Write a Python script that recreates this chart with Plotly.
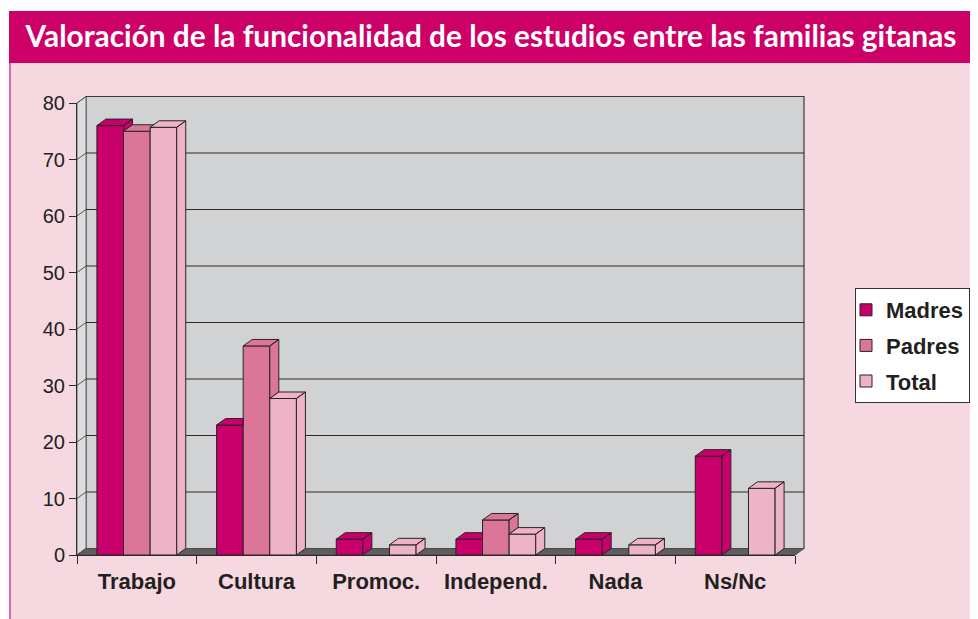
import plotly.graph_objects as go

# ---------------- data ----------------
categories = ["Trabajo", "Cultura", "Promoc.", "Independ.", "Nada", "Ns/Nc"]
madres = [76, 23, 2.8, 2.8, 2.8, 17.5]
padres = [75, 37, None, 6.2, None, None]
total = [75.7, 27.7, 1.8, 3.7, 1.8, 11.8]
series_names = ["Madres", "Padres", "Total"]
y_ticks = [0, 10, 20, 30, 40, 50, 60, 70, 80]
title_text = "Valoración de la funcionalidad de los estudios entre las familias gitanas"

# ---------------- style ----------------
colors = ["#C9006B", "#DC7698", "#EDB4C7"]
edge = "#2A2226"
PAGE_W, PAGE_H = 978, 619
OFF = 8                                    # default body margin of the html page
W, H = PAGE_W - OFF, PAGE_H - OFF          # figure size
L, R_px, T, B_px = 77, 795, 103, 555      # front plot area in page pixels
PW, PH = R_px - L, B_px - T
DX_PX, DY_PX = 9, 6.5                      # 3D depth offset in pixels
bargap = 0.333
ymax = y_ticks[-1]

def px_x(p):
    return (p - L) / PW

def px_y(p):
    return (B_px - p) / PH

xunit_px = PW / len(categories)
dx = DX_PX / xunit_px
dy = DY_PX / (PH / ymax)
w = (1 - bargap) / 3

fig = go.Figure()

series = [madres, padres, total]
xs = list(range(len(categories)))
for k, (name, vals) in enumerate(zip(series_names, series)):
    fig.add_trace(go.Bar(
        x=xs, y=vals, name=name, legendgroup=name,
        marker=dict(color=colors[k], line=dict(color=edge, width=1)),
        hoverinfo="y+name",
    ))

# 3D faces (top and right side) for each bar, clipped by the right neighbour
for i in xs:
    for k in range(3):
        v = series[k][i]
        if v is None:
            continue
        nb = series[k + 1][i] if k < 2 else None
        n = nb if nb is not None else 0
        xc = i + (k - 1) * w
        x0, x1 = xc - w / 2, xc + w / 2
        px_, py_ = [], []
        if n < v:
            lo = n
            poly = [(x1, lo), (x1 + dx, lo + dy), (x1 + dx, v + dy), (x1, v)]
            px_ += [p[0] for p in poly] + [poly[0][0], None]
            py_ += [p[1] for p in poly] + [poly[0][1], None]
        if n <= v:
            poly = [(x0, v), (x0 + dx, v + dy), (x1 + dx, v + dy), (x1, v)]
        elif n >= v + dy:
            poly = [(x0, v), (x0 + dx, v + dy), (x1, v + dy), (x1, v)]
        else:
            t = (n - v) / dy
            poly = [(x0, v), (x0 + dx, v + dy), (x1 + dx, v + dy),
                    (x1 + dx * t, n), (x1, n), (x1, v)]
        px_ += [p[0] for p in poly] + [poly[0][0]]
        py_ += [p[1] for p in poly] + [poly[0][1]]
        fig.add_trace(go.Scatter(
            x=px_, y=py_, mode="lines", fill="toself",
            fillcolor=colors[k], line=dict(color=edge, width=1),
            showlegend=False, hoverinfo="skip",
        ))

shapes = []
shapes.append(dict(type="rect", xref="paper", yref="paper",
                   x0=px_x(9), x1=px_x(PAGE_W + 2), y0=px_y(PAGE_H + 2), y1=px_y(62),
                   fillcolor="#F6D8E1", line=dict(width=0), layer="below"))
shapes.append(dict(type="rect", xref="paper", yref="paper",
                   x0=px_x(9), x1=px_x(PAGE_W + 2), y0=px_y(63), y1=px_y(11),
                   fillcolor="#CC0066", line=dict(width=0), layer="below"))
shapes.append(dict(type="line", xref="paper", yref="paper",
                   x0=px_x(10), x1=px_x(10), y0=px_y(63), y1=px_y(PAGE_H + 2),
                   line=dict(color="#E03B9B", width=1.5), layer="below"))
shapes.append(dict(type="rect", xref="paper", yref="paper",
                   x0=px_x(L + DX_PX), x1=px_x(R_px + DX_PX),
                   y0=px_y(B_px - DY_PX), y1=px_y(T - DY_PX),
                   fillcolor="#D1D2D4", line=dict(color="#3A3A3A", width=1.2),
                   layer="below"))
shapes.append(dict(type="path", xref="paper", yref="paper",
                   path=(f"M{px_x(L)},{px_y(B_px)} L{px_x(L + DX_PX)},{px_y(B_px - DY_PX)} "
                         f"L{px_x(L + DX_PX)},{px_y(T - DY_PX)} L{px_x(L)},{px_y(T)} Z"),
                   fillcolor="#DCDDDF", line=dict(color="#6A6A6A", width=1),
                   layer="below"))
for t in y_ticks[1:-1]:
    yb = t / ymax + DY_PX / PH
    shapes.append(dict(type="line", xref="paper", yref="paper",
                       x0=px_x(L + DX_PX), x1=px_x(R_px + DX_PX), y0=yb, y1=yb,
                       line=dict(color="#2A2A2A", width=1), layer="below"))
for t in y_ticks:
    yb = t / ymax + DY_PX / PH
    yf = t / ymax
    shapes.append(dict(type="line", xref="paper", yref="paper",
                       x0=px_x(L), x1=px_x(L + DX_PX), y0=yf, y1=yb,
                       line=dict(color="#555555", width=1), layer="below"))
shapes.append(dict(type="path", xref="paper", yref="paper",
                   path=(f"M{px_x(L)},{px_y(B_px)} L{px_x(L + DX_PX)},{px_y(B_px - DY_PX)} "
                         f"L{px_x(R_px + DX_PX)},{px_y(B_px - DY_PX)} L{px_x(R_px)},{px_y(B_px)} Z"),
                   fillcolor="#5E5E5E", line=dict(color="#4A4A4A", width=1),
                   layer="below"))

font_main = "Liberation Sans, Arial, sans-serif"

fig.update_layout(
    width=W, height=H,
    margin=dict(l=L - OFF, r=W - (R_px - OFF), t=T - OFF, b=H - (B_px - OFF), pad=0,
                autoexpand=False),
    paper_bgcolor="white",
    plot_bgcolor="rgba(0,0,0,0)",
    barmode="group", bargap=bargap, bargroupgap=0,
    shapes=shapes,
    title=dict(text="<b>" + title_text + "</b>", x=(491 - OFF) / W, xref="container",
               xanchor="center", y=1 - (37 - OFF) / H, yref="container", yanchor="middle",
               font=dict(family="Lato, Roboto, sans-serif", size=29.8, color="white")),
    showlegend=True,
    legend=dict(x=px_x(855), y=px_y(288), xanchor="left", yanchor="top",
                bgcolor="white", bordercolor="#333333", borderwidth=1,
                font=dict(family=font_main, size=22, color="#231F20", weight="bold"),
                traceorder="grouped", tracegroupgap=4, indentation=-10,
                itemwidth=30),
    font=dict(family=font_main, color="#231F20"),
)

fig.update_xaxes(
    range=[-0.5, len(categories) - 0.5],
    tickvals=xs, ticktext=["<b>%s</b>" % c for c in categories],
    ticks="outside", ticklen=7, tickcolor="rgba(0,0,0,0)",
    tickfont=dict(size=22, family=font_main, color="#231F20"),
    showline=True, linecolor="#2A2A2A", linewidth=1,
    showgrid=False, zeroline=False,
    minor=dict(tickvals=[i - 0.5 for i in range(len(categories) + 1)],
               ticks="outside", ticklen=8, tickcolor="#2A2A2A", showgrid=False),
    fixedrange=True,
)
fig.update_yaxes(
    range=[0, ymax], tickvals=y_ticks,
    ticks="outside", ticklen=7, tickcolor="#2A2A2A",
    tickfont=dict(size=20, family=font_main, color="#231F20"),
    showline=True, linecolor="#2A2A2A", linewidth=1,
    showgrid=False, zeroline=False, fixedrange=True,
)

fig.write_html("out.html")
